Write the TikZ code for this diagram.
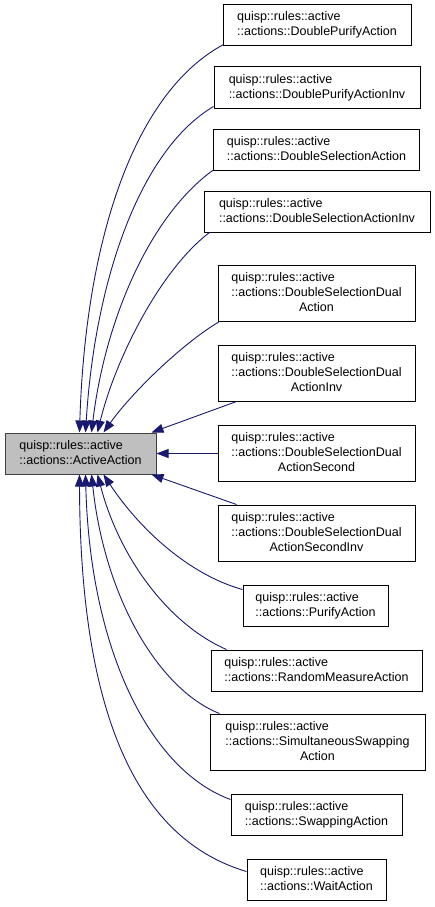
\documentclass[tikz,border=0pt]{standalone}
\usepackage{fontspec}
\setmainfont{Liberation Sans}
\usetikzlibrary{arrows.meta}
\definecolor{edgeblue}{HTML}{191970}
\definecolor{basefill}{HTML}{BFBFBF}
\definecolor{baseline}{HTML}{404040}
\newcommand{\gvfont}{\fontsize{12.5}{15}\selectfont}
\newcommand{\twol}[2]{\begin{tabular}{@{}l@{}}#1\\#2\end{tabular}}
\newcommand{\threel}[3]{\begin{tabular}{@{}l@{}}#1\\#2\\\multicolumn{1}{@{}c@{}}{#3}\end{tabular}}
\renewcommand{\arraystretch}{1}
\tikzset{
  cls/.style={draw=black, fill=white, line width=1pt, inner sep=0pt, font=\gvfont},
  basecls/.style={cls, draw=baseline, fill=basefill},
  inh/.style={draw=edgeblue, line width=0.9pt, {Triangle[length=12pt,width=9pt,fill=edgeblue]}-},
}
\begin{document}
\begin{tikzpicture}[x=1pt,y=-1pt]
\useasboundingbox (0,0) rectangle (435,907);
\node[basecls, minimum width=151pt, minimum height=41pt] (base) at (80.5,453.5) {\twol{quisp::rules::active}{::actions::ActiveAction}};
\node[cls, minimum width=188pt, minimum height=41pt] (c1) at (317,25.5) {\twol{quisp::rules::active}{::actions::DoublePurifyAction}};
\node[cls, minimum width=206pt, minimum height=41pt] (c2) at (317,87.5) {\twol{quisp::rules::active}{::actions::DoublePurifyActionInv}};
\node[cls, minimum width=206pt, minimum height=41pt] (c3) at (316.5,149.5) {\twol{quisp::rules::active}{::actions::DoubleSelectionAction}};
\node[cls, minimum width=226pt, minimum height=41pt] (c4) at (317,211.5) {\twol{quisp::rules::active}{::actions::DoubleSelectionActionInv}};
\node[cls, minimum width=197pt, minimum height=56pt] (c5) at (316.5,293) {\threel{quisp::rules::active}{::actions::DoubleSelectionDual}{Action}};
\node[cls, minimum width=197pt, minimum height=56pt] (c6) at (316.5,373) {\threel{quisp::rules::active}{::actions::DoubleSelectionDual}{ActionInv}};
\node[cls, minimum width=197pt, minimum height=56pt] (c7) at (316.5,453.5) {\threel{quisp::rules::active}{::actions::DoubleSelectionDual}{ActionSecond}};
\node[cls, minimum width=197pt, minimum height=56pt] (c8) at (316.5,533) {\threel{quisp::rules::active}{::actions::DoubleSelectionDual}{ActionSecondInv}};
\node[cls, minimum width=145pt, minimum height=41pt] (c9) at (315.5,605.5) {\twol{quisp::rules::active}{::actions::PurifyAction}};
\node[cls, minimum width=211pt, minimum height=41pt] (c10) at (316.5,670.5) {\twol{quisp::rules::active}{::actions::RandomMeasureAction}};
\node[cls, minimum width=215pt, minimum height=56pt] (c11) at (317.5,742) {\threel{quisp::rules::active}{::actions::SimultaneousSwapping}{Action}};
\node[cls, minimum width=171pt, minimum height=41pt] (c12) at (316.5,814.5) {\twol{quisp::rules::active}{::actions::SwappingAction}};
\node[cls, minimum width=139pt, minimum height=41pt] (c13) at (316.5,879.5) {\twol{quisp::rules::active}{::actions::WaitAction}};
% edges (arrow at the base class)
\draw[inh] ([xshift=75pt]base.north west) .. controls (85,250) and (130,95) .. ([xshift=1pt,yshift=2pt]c1.south west);
\draw[inh] ([xshift=81pt]base.north west) .. controls (95,280) and (140,150) .. ([yshift=2pt]c2.south west);
\draw[inh] ([xshift=87pt]base.north west) .. controls (105,320) and (150,215) .. ([xshift=1pt,yshift=1pt]c3.south west);
\draw[inh] ([xshift=93pt]base.north west) .. controls (115,360) and (160,270) .. ([xshift=6pt]c4.south west);
\draw[inh] ([xshift=99pt]base.north west) .. controls (130,395) and (180,345) .. ([xshift=2pt]c5.south west);
\draw[inh] ([xshift=147pt]base.north west) -- ([xshift=19pt]c6.south west);
\draw[inh] (base.east) -- (c7.west);
\draw[inh] ([xshift=147pt]base.south west) -- ([xshift=19pt]c8.north west);
\draw[inh] ([xshift=99pt]base.south west) .. controls (140,530) and (190,575) .. ([yshift=-5pt]c9.north west);
\draw[inh] ([xshift=93pt]base.south west) .. controls (120,560) and (170,625) .. ([xshift=16pt]c10.north west);
\draw[inh] ([xshift=87pt]base.south west) .. controls (105,600) and (160,690) .. ([xshift=10pt]c11.north west);
\draw[inh] ([xshift=81pt]base.south west) .. controls (90,650) and (150,770) .. ([yshift=-6pt]c12.north west);
\draw[inh] ([xshift=75pt]base.south west) .. controls (80,720) and (140,840) .. ([yshift=-13pt]c13.north west);
\end{tikzpicture}
\end{document}
